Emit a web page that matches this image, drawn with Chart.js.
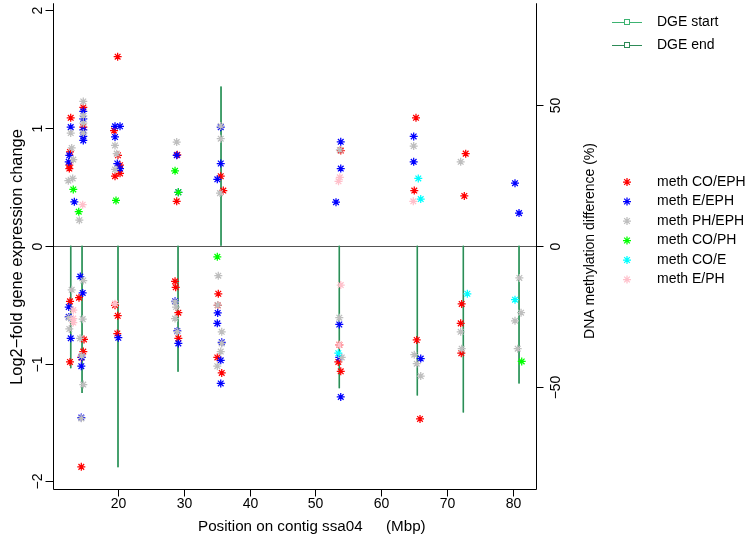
<!DOCTYPE html>
<html>
<head>
<meta charset="utf-8">
<script src="https://cdn.jsdelivr.net/npm/chart.js@4.4.1/dist/chart.umd.min.js"></script>
<style>
  html, body { margin: 0; padding: 0; background: #fff; }
</style>
</head>
<body>
<canvas id="chart" width="749" height="534"></canvas>
<script>
// tick labels
const xTicks = [20, 30, 40, 50, 60, 70, 80];
const leftTicks = [-2, -1, 0, 1, 2];
const rightTicks = [-50, 0, 50];

// DGE genes: start / end position (Mbp) and log2 fold change
const dgeStart = [12.80, 14.52, 19.98, 29.10, 35.63, 53.60, 65.45, 72.44, 80.90];
const dgeEnd   = [12.84, 14.56, 20.02, 29.14, 35.67, 53.64, 65.49, 72.48, 80.94];
const dgeFold  = [-1.04, -1.25, -1.88, -1.07, 1.35, -1.21, -1.27, -1.415, -1.17];

// methylation differences: [position Mbp, difference %]
const methCoEph = [
  [12.82, 45.4], [12.71, 33.3], [12.61, 28.6], [12.61, 27.4], [14.73, 49.1], [14.73, 42.1],
  [19.40, 40.9], [20.00, 32.1], [20.31, 28.6], [20.31, 25.7], [19.55, 24.7], [19.95, 67.1],
  [28.92, 15.8], [29.01, 32.3], [35.61, 24.7], [36.00, 19.6], [53.84, 33.8],
  [65.27, 45.4], [65.01, 19.6], [72.82, 32.7], [72.61, 17.7],
  [12.71, -19.7], [12.71, -41.2], [14.08, -18.4], [14.84, -33.2], [14.73, -37.5], [14.43, -39.6],
  [14.43, -78.4], [19.55, -21.1], [19.96, -24.8], [19.90, -31.1],
  [28.67, -12.6], [28.77, -14.7], [29.17, -23.7], [29.17, -32.8],
  [35.24, -17.0], [35.15, -21.1], [35.09, -39.6], [35.76, -45.1],
  [53.62, -35.1], [53.47, -41.2], [53.84, -44.5],
  [65.38, -33.4], [65.88, -61.4], [72.21, -20.6], [72.06, -27.5], [72.15, -38.1]
];
const methEEph = [
  [12.82, 42.1], [12.52, 29.8], [12.61, 32.1], [13.37, 15.6],
  [14.73, 47.7], [14.73, 45.0], [14.73, 41.1], [14.73, 38.8], [14.73, 37.4],
  [19.55, 42.4], [20.31, 42.4], [19.55, 38.6], [19.90, 29.2], [20.31, 27.4],
  [28.92, 32.1], [29.17, 19.0], [35.61, 42.1], [35.61, 29.2], [35.09, 23.6],
  [53.84, 36.9], [53.84, 27.4], [53.12, 15.5], [64.92, 38.8], [64.92, 29.8],
  [80.31, 22.2], [80.92, 11.6],
  [12.52, -21.7], [12.52, -25.2], [12.82, -32.8], [14.28, -10.9], [14.64, -16.7],
  [14.49, -39.6], [14.43, -42.7], [14.43, -60.9], [20.05, -32.6],
  [28.67, -19.7], [29.01, -30.2], [29.17, -34.6],
  [35.15, -23.8], [35.09, -27.5], [35.76, -34.2], [35.61, -40.6], [35.61, -48.8],
  [53.62, -27.9], [53.62, -39.6], [53.84, -53.6], [65.99, -40.0]
];
const methPhEph = [
  [12.82, 40.0], [12.97, 34.7], [13.21, 30.6], [12.46, 23.1], [13.12, 23.9], [14.13, 9.1],
  [14.73, 51.2], [14.73, 46.1], [14.73, 43.5], [14.73, 40.0],
  [19.55, 35.6], [19.81, 32.7], [19.55, 27.1], [28.92, 36.8],
  [35.61, 38.0], [35.61, 42.5], [35.50, 18.7], [53.70, 34.0], [64.92, 35.4], [72.06, 29.8],
  [12.97, -15.6], [12.52, -25.5], [12.61, -29.5], [14.73, -12.3], [14.64, -26.0],
  [14.24, -32.8], [14.49, -39.0], [14.73, -49.2], [14.43, -61.2],
  [28.67, -19.9], [28.82, -21.7], [28.67, -25.8], [29.01, -30.4],
  [35.24, -10.6], [35.15, -21.0], [35.76, -30.5], [35.76, -34.6], [35.61, -37.5], [35.09, -42.7],
  [53.62, -25.5], [53.99, -39.6], [65.01, -38.6], [65.38, -41.8], [65.99, -46.2],
  [72.06, -30.5], [72.21, -36.5], [80.97, -11.4], [81.23, -23.7], [80.31, -26.6], [80.72, -36.5]
];
const methCoPh = [
  [13.21, 20.0], [14.04, 12.1], [19.70, 16.1], [28.67, 26.6], [29.17, 19.0],
  [35.09, -3.9], [81.33, -41.0]
];
const methCoE = [
  [65.62, 23.9], [65.99, 16.6], [53.47, -38.1], [73.07, -17.0], [80.31, -19.1]
];
const methEPh = [
  [14.64, 14.6], [64.86, 15.8], [53.70, 24.3], [53.50, 22.9],
  [13.21, -22.8], [13.21, -25.8], [13.21, -27.2], [19.55, -20.5],
  [53.84, -13.9], [53.62, -35.1]
];

const methSeries = [
  { label: 'meth CO/EPH', data: methCoEph, color: '#ff0000' },
  { label: 'meth E/EPH', data: methEEph, color: '#0000ff' },
  { label: 'meth PH/EPH', data: methPhEph, color: '#bebebe' },
  { label: 'meth CO/PH', data: methCoPh, color: '#00ff00' },
  { label: 'meth CO/E', data: methCoE, color: '#00ffff' },
  { label: 'meth E/PH', data: methEPh, color: '#ffc0cb' }
];
const dgeStartColor = '#3cb371';
const dgeEndColor = '#2e8b57';

function dgeLine(pos) {
  const pts = [];
  pos.forEach((p, i) => {
    pts.push({ x: p, y: 0 }, { x: p, y: dgeFold[i] }, { x: p, y: null });
  });
  return pts;
}

const datasets = [
  {
    type: 'line', label: 'DGE start', data: dgeLine(dgeStart), yAxisID: 'yL',
    borderColor: dgeStartColor, borderWidth: 1.3, pointRadius: 0, spanGaps: false, order: 20
  },
  {
    type: 'line', label: 'DGE end', data: dgeLine(dgeEnd), yAxisID: 'yL',
    borderColor: dgeEndColor, borderWidth: 1.3, pointRadius: 0, spanGaps: false, order: 19
  }
];
methSeries.forEach((s, i) => {
  datasets.push({
    type: 'scatter', label: s.label, yAxisID: 'yR',
    data: s.data.map(d => ({ x: d[0], y: d[1] })),
    pointStyle: 'star', pointRadius: 4, borderWidth: 1.25,
    borderColor: s.color, backgroundColor: s.color, order: 10 - i
  });
});

const FONT = '14px "Liberation Sans", Arial, sans-serif';
const TITLE_FONT = '16.4px "Liberation Sans", Arial, sans-serif';
const XTITLE_FONT = '15.2px "Liberation Sans", Arial, sans-serif';

function vText(ctx, txt, x, y) {
  ctx.save();
  ctx.translate(x, y);
  ctx.rotate(-Math.PI / 2);
  ctx.textAlign = 'center';
  ctx.textBaseline = 'middle';
  ctx.fillText(txt, 0, 0);
  ctx.restore();
}

const rPlot = {
  id: 'rPlot',
  beforeDatasetsDraw(chart) {
    const { ctx, chartArea: a, scales } = chart;
    const y0 = Math.round(scales.yL.getPixelForValue(0)) + 0.5;
    ctx.save();
    ctx.strokeStyle = '#555555';
    ctx.lineWidth = 1;
    ctx.beginPath();
    ctx.moveTo(a.left, y0);
    ctx.lineTo(a.right, y0);
    ctx.stroke();
    ctx.restore();
  },
  afterDraw(chart) {
    const { ctx, chartArea: a, scales } = chart;
    const L = Math.round(a.left) + 0.5, R = Math.round(a.right) + 0.5, B = Math.round(a.bottom) + 0.5;
    ctx.save();
    ctx.strokeStyle = '#000';
    ctx.fillStyle = '#000';
    ctx.lineWidth = 1;
    // box (top is outside the picture)
    ctx.beginPath();
    ctx.moveTo(L, a.top - 2); ctx.lineTo(L, B); ctx.lineTo(R, B); ctx.lineTo(R, a.top - 2);
    ctx.stroke();
    ctx.font = FONT;

    // x axis
    ctx.textAlign = 'center';
    ctx.textBaseline = 'middle';
    xTicks.forEach(t => {
      const px = Math.round(scales.x.getPixelForValue(t)) + 0.5;
      ctx.beginPath(); ctx.moveTo(px, B); ctx.lineTo(px, B + 7); ctx.stroke();
      ctx.fillText(String(t), px, 504);
    });

    // left axis
    leftTicks.forEach(t => {
      const py = Math.round(scales.yL.getPixelForValue(t)) + 0.5;
      ctx.beginPath(); ctx.moveTo(L, py); ctx.lineTo(L - 8, py); ctx.stroke();
      vText(ctx, t < 0 ? '\u2212' + Math.abs(t) : String(t), 38, py);
    });

    // right axis
    rightTicks.forEach(t => {
      const py = Math.round(scales.yR.getPixelForValue(t)) + 0.5;
      ctx.beginPath(); ctx.moveTo(R, py); ctx.lineTo(R + 7, py); ctx.stroke();
      vText(ctx, t < 0 ? '\u2212' + Math.abs(t) : String(t), 556, py);
    });

    // axis titles
    vText(ctx, 'DNA methylation difference (%)', 590, 241);
    ctx.font = XTITLE_FONT;
    ctx.textAlign = 'left';
    ctx.fillText('Position on contig ssa04', 198, 527);
    ctx.fillText('(Mbp)', 386, 527);
    ctx.font = TITLE_FONT;
    vText(ctx, 'Log2\u2212fold gene expression change', 17, 257);

    // DGE legend
    ctx.font = FONT;
    ctx.textAlign = 'left';
    ctx.textBaseline = 'middle';
    [['DGE start', dgeStartColor, 22], ['DGE end', dgeEndColor, 45]].forEach(([txt, col, y]) => {
      ctx.strokeStyle = col;
      ctx.beginPath(); ctx.moveTo(612, y + 0.5); ctx.lineTo(642, y + 0.5); ctx.stroke();
      ctx.fillStyle = '#fff';
      ctx.fillRect(624, y - 2.5, 6, 6);
      ctx.strokeRect(624.5, y - 2.5, 5, 5);
      ctx.fillStyle = '#000';
      ctx.fillText(txt, 657, y);
    });

    // methylation legend
    methSeries.forEach((s, i) => {
      const y = 182 + i * 19.5;
      ctx.strokeStyle = s.color;
      ctx.lineWidth = 1.25;
      ctx.beginPath();
      const r = 4;
      for (let k = 0; k < 4; k++) {
        const ang = k * Math.PI / 4;
        ctx.moveTo(627 - Math.cos(ang) * r, y - Math.sin(ang) * r);
        ctx.lineTo(627 + Math.cos(ang) * r, y + Math.sin(ang) * r);
      }
      ctx.stroke();
      ctx.fillStyle = '#000';
      ctx.fillText(s.label, 657, y);
    });
    ctx.restore();
  }
};

new Chart(document.getElementById('chart'), {
  type: 'scatter',
  data: { datasets: datasets },
  options: {
    responsive: false,
    animation: false,
    layout: { padding: { left: 53, right: 213, top: 0, bottom: 45 } },
    plugins: { legend: { display: false }, tooltip: { enabled: false } },
    scales: {
      x: { type: 'linear', min: 10.13, max: 83.5, display: false },
      yL: { type: 'linear', position: 'left', min: -2.064, max: 2.039, display: false },
      yR: { type: 'linear', position: 'right', min: -86.25, max: 85.33, display: false }
    }
  },
  plugins: [rPlot]
});
</script>
</body>
</html>
